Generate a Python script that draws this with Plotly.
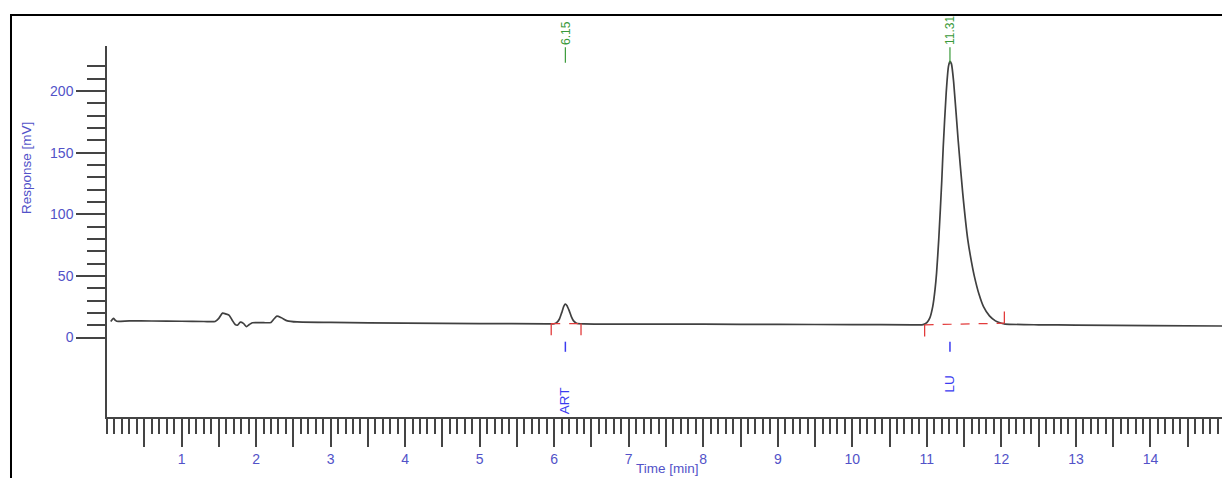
import plotly.graph_objects as go

# Chromatogram trace: retention time (min) vs detector response (mV)
time_min = [
    0.05, 0.07, 0.09, 0.11, 0.13, 0.30, 0.60, 1.00, 1.30, 1.45,
    1.50, 1.55, 1.60, 1.64, 1.68, 1.72, 1.75, 1.79, 1.83, 1.87,
    1.91, 1.95, 2.10, 2.20, 2.24, 2.28, 2.34, 2.42, 2.55, 3.00,
    4.00, 5.00, 5.90, 6.00, 6.04, 6.07, 6.10, 6.13, 6.15, 6.17,
    6.20, 6.23, 6.26, 6.30, 6.40, 7.00, 8.00, 9.00, 10.00, 10.80,
    10.95, 11.00, 11.04, 11.08, 11.11, 11.13, 11.16, 11.20, 11.22, 11.26,
    11.29, 11.31, 11.33, 11.36, 11.42, 11.48, 11.55, 11.60, 11.64, 11.70,
    11.76, 11.84, 11.92, 12.00, 12.05, 12.50, 13.00, 14.00, 15.00,
]
response_mv = [
    13.0, 14.5, 15.6, 14.0, 13.2, 13.5, 13.4, 13.2, 13.0, 13.0,
    15.5, 19.8, 19.0, 18.0, 14.0, 10.5, 10.0, 12.5, 11.5, 8.8,
    10.5, 12.0, 12.0, 12.2, 15.0, 17.3, 16.0, 13.5, 12.6, 12.2,
    11.7, 11.3, 11.1, 11.2, 12.5, 15.0, 20.0, 25.5, 27.0, 26.0,
    22.0, 17.0, 13.5, 11.6, 11.0, 10.9, 10.8, 10.6, 10.5, 10.3,
    10.4, 12.0, 15.9, 25.5, 39.0, 52.0, 80.0, 127.0, 155.0, 199.0,
    220.0, 224.0, 222.0, 207.0, 160.0, 118.0, 79.0, 61.0, 49.0, 35.0,
    25.0, 17.5, 13.5, 11.6, 10.9, 10.3, 10.1, 9.7, 9.3,
]

# Identified peaks and their integration windows
peak_names = ["ART", "LU"]
peak_rt = [6.15, 11.31]
int_start = [5.96, 10.97]
int_end = [6.36, 12.04]
int_base_start = [11.3, 10.3]
int_base_end = [11.3, 11.6]

# Axis ticks
x_major = [i * 0.5 for i in range(1, 30)]
x_labels = [str(int(v)) if v == int(v) else "" for v in x_major]
y_major = [0, 50, 100, 150, 200]
y_labels = ["0", "50", "100", "150", "200"]
y_minor = list(range(0, 230, 10))

AXIS = "#444444"
TICKFONT = "#5252c8"
NAMEBLUE = "#3b3bf0"
RED = "#e23b3b"
GREEN = "#3a9a3a"
FONT = "Liberation Sans, Arial, sans-serif"

fig = go.Figure()

# detector signal
fig.add_trace(go.Scatter(
    x=time_min, y=response_mv, mode="lines",
    line=dict(color="#404040", width=1.7, shape="spline", smoothing=0.6),
    hoverinfo="skip", showlegend=False,
))

# integration baselines (dashed) and start/end markers
tick_dir_end = [-1, 1]
for i in range(len(peak_names)):
    fig.add_trace(go.Scatter(
        x=[int_start[i], int_end[i]], y=[int_base_start[i], int_base_end[i]],
        mode="lines", line=dict(color=RED, width=1.2, dash="dash"),
        hoverinfo="skip", showlegend=False,
    ))
    fig.add_trace(go.Scatter(
        x=[int_start[i], int_start[i], None, int_end[i], int_end[i]],
        y=[int_base_start[i], int_base_start[i] - 9.5, None,
           int_base_end[i], int_base_end[i] + 9.5 * tick_dir_end[i]],
        mode="lines", line=dict(color=RED, width=1.3),
        hoverinfo="skip", showlegend=False,
    ))

# retention-time markers below the baseline
mx, my = [], []
for rt in peak_rt:
    mx += [rt, rt, None]
    my += [-3.4, -11.6, None]
fig.add_trace(go.Scatter(
    x=mx, y=my, mode="lines", line=dict(color=NAMEBLUE, width=1.5),
    hoverinfo="skip", showlegend=False,
))

# green retention-time flags at the top
gx, gy = [], []
for rt in peak_rt:
    gx += [rt, rt, None]
    gy += [223.0, 235.5, None]
fig.add_trace(go.Scatter(
    x=gx, y=gy, mode="lines", line=dict(color=GREEN, width=1.2),
    hoverinfo="skip", showlegend=False,
))

annotations = []
for rt in peak_rt:
    annotations.append(dict(
        x=rt, y=236.0, xref="x", yref="y", text=f"{rt:.2f}",
        textangle=-90, showarrow=False, xanchor="center", yanchor="bottom",
        font=dict(family=FONT, size=12, color=GREEN),
    ))
name_y = [-51.5, -37.3]
for name, rt, ny in zip(peak_names, peak_rt, name_y):
    annotations.append(dict(
        x=rt, y=ny, xref="x", yref="y", text=name,
        textangle=-90, showarrow=False, xanchor="center", yanchor="middle",
        font=dict(family=FONT, size=13.5, color=NAMEBLUE),
    ))
annotations.append(dict(
    x=0.503, y=-0.140, xref="paper", yref="paper", text="Time [min]",
    showarrow=False, xanchor="center", yanchor="middle",
    font=dict(family=FONT, size=13.5, color=TICKFONT),
))
annotations.append(dict(
    x=-0.0726, y=0.671, xref="paper", yref="paper", text="Response [mV]",
    textangle=-90, showarrow=False, xanchor="center", yanchor="middle",
    font=dict(family=FONT, size=13.5, color=TICKFONT),
))

fig.update_layout(
    width=1222, height=478,
    margin=dict(l=107, r=0, t=46, b=61, pad=0),
    paper_bgcolor="white", plot_bgcolor="white",
    annotations=annotations,
    shapes=[dict(
        type="rect", xref="paper", yref="paper",
        x0=-0.0861, x1=1.02, y0=-0.25, y1=1.0836,
        line=dict(color="black", width=2), fillcolor="rgba(0,0,0,0)",
        layer="above",
    )],
    xaxis=dict(
        range=[0, 14.96], showgrid=False, zeroline=False,
        showline=True, linecolor=AXIS, linewidth=1.5,
        tickmode="array", tickvals=x_major, ticktext=x_labels,
        ticks="outside", ticklen=28, tickwidth=1.5, tickcolor=AXIS,
        tickfont=dict(family=FONT, size=14, color=TICKFONT),
        minor=dict(dtick=0.1, tick0=0, ticks="outside", ticklen=15,
                   tickwidth=1.5, tickcolor=AXIS, showgrid=False),
    ),
    yaxis=dict(
        range=[-64.5, 236.5], showgrid=False, zeroline=False,
        showline=True, linecolor=AXIS, linewidth=1.5,
        tickmode="array", tickvals=y_major, ticktext=y_labels,
        ticks="outside", ticklen=29, tickwidth=1.5, tickcolor=AXIS,
        tickfont=dict(family=FONT, size=14, color=TICKFONT),
        minor=dict(tickmode="array", tickvals=y_minor, ticks="outside",
                   ticklen=18, tickwidth=1.5, tickcolor=AXIS, showgrid=False),
    ),
)

fig.write_html("out.html")
